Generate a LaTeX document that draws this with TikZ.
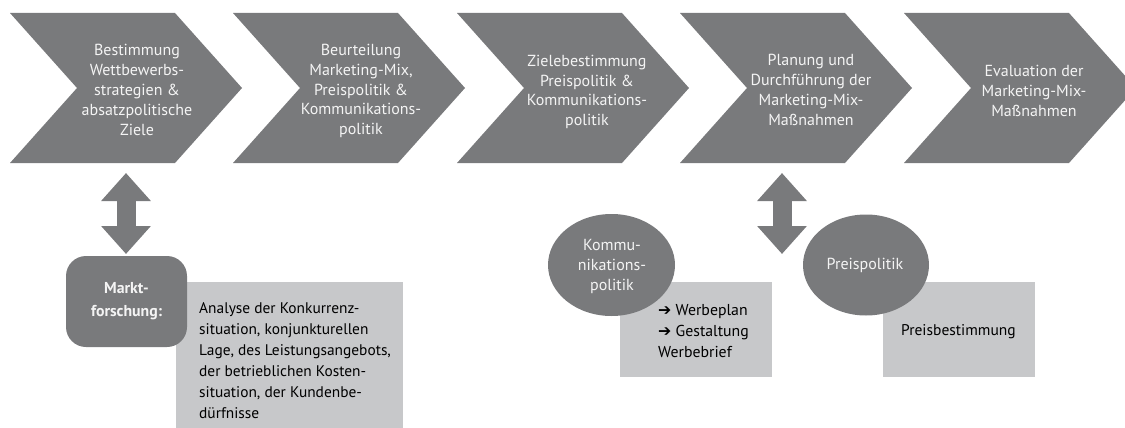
\documentclass[tikz,border=0pt]{standalone}
\usepackage{fontspec}
\setmainfont{PT Sans}
\newfontfamily\symfont{DejaVu Sans}
\usetikzlibrary{arrows.meta,shapes.geometric}
\definecolor{dgray}{HTML}{797A7C}
\definecolor{lgray}{HTML}{C7C8CA}
\definecolor{wtext}{HTML}{F4F4F4}
\tikzset{
  chev/.style={fill=dgray, draw=none},
  chevtext/.style={text=wtext, align=center, font=\fontsize{16}{19.8}\selectfont, inner sep=0pt},
  boxtext/.style={text=black, align=left, font=\fontsize{#1}{21}\selectfont, inner sep=0pt, anchor=north west},
  ovaltext/.style={text=wtext, align=center, font=\fontsize{16}{20}\selectfont},
  fatarrow/.style={draw=dgray, line width=19pt, {Triangle[length=28pt,width=48pt]}-{Triangle[length=28pt,width=48pt]}},
}
\begin{document}
\begin{tikzpicture}[x=1pt,y=-1pt]
\useasboundingbox (0,0) rectangle (1125,428);
\begin{scope}
\clip (0,0) rectangle (1125,428);
% chevrons
\foreach \L in {10,233,457,680,904}{
  \fill[chev] (\L,13) -- ++(165,0) -- ++(67,75) -- ++(-67,75) -- ++(-165,0) -- ++(67,-75) -- cycle;
}
\end{scope}
\node[chevtext] (c1) at (137,90) {Bestimmung\\Wettbewerbs-\\strategien \&\\absatzpolitische\\Ziele};
\node[chevtext] (c2) at (361,91) {Beurteilung\\Marketing-Mix,\\Preispolitik \&\\Kommunikations-\\politik};
\node[chevtext] (c3) at (587,92) {Zielebestimmung\\Preispolitik \&\\Kommunikations-\\politik};
\node[chevtext] (c4) at (811,90) {Planung und\\Durchführung der\\Marketing-Mix-\\Maßnahmen};
\node[chevtext] (c5) at (1034,91) {Evaluation der\\Marketing-Mix-\\Maßnahmen};

% left group
\node[fill=lgray, minimum width=227pt, minimum height=150pt, anchor=north west, inner sep=0pt] (b1) at (176,282) {};
\node[boxtext=15.4] (t1) at (199,302.5) {Analyse der Konkurrenz-\\situation, konjunkturellen\\Lage, des Leistungsangebots,\\der betrieblichen Kosten-\\situation, der Kundenbe-\\dürfnisse};
\node[fill=dgray, rounded corners=20pt, minimum width=121pt, minimum height=91pt, inner sep=0pt, text=wtext, align=center, font=\bfseries\fontsize{15.8}{23}\selectfont] (mf) at (126.5,301.5) {Markt-\\forschung:};

% middle group
\node[fill=lgray, minimum width=152pt, minimum height=95pt, anchor=north west, inner sep=0pt] (b2) at (620,282) {};
\node[boxtext=15.8] (t2) at (658,304) {{\symfont\bfseries ➔} Werbeplan\\{\symfont\bfseries ➔} Gestaltung\\Werbebrief};
\node[ellipse, fill=dgray, minimum width=127pt, minimum height=102pt, inner sep=0pt] (kp) at (611.5,265) {};
\node[ovaltext] at (612,266) {Kommu-\\nikations-\\politik};

% right group
\node[fill=lgray, minimum width=152pt, minimum height=95pt, anchor=north west, inner sep=0pt] (b3) at (883,282) {};
\node[text=black, font=\fontsize{15.5}{21}\selectfont, anchor=west, inner sep=0pt] (t3) at (901,332) {Preisbestimmung};
\node[ellipse, fill=dgray, minimum width=126pt, minimum height=101pt, inner sep=0pt] (pp) at (866,265) {};
\node[ovaltext] at (865,265) {Preispolitik};

% double arrows
\coordinate (a1t) at (126,173);
\coordinate (a1b) at (126,254);
\coordinate (a2t) at (782,173);
\coordinate (a2b) at (782,254);
\draw[fatarrow] (a1t) -- (a1b);
\draw[fatarrow] (a2t) -- (a2b);
\end{tikzpicture}
\end{document}
